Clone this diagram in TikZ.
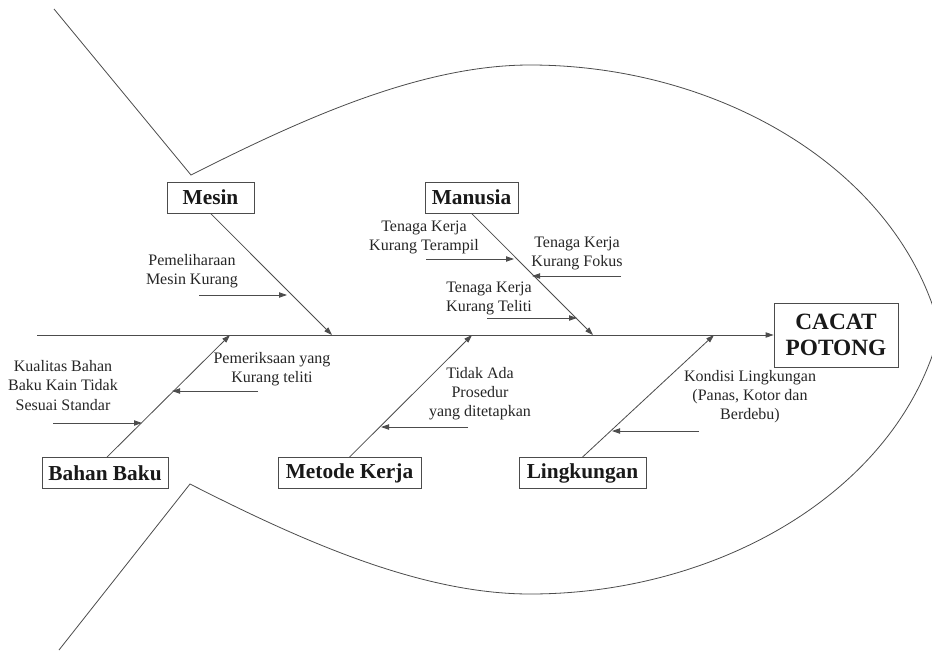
\documentclass[tikz,border=0pt]{standalone}
\usepackage{fontspec}
\setmainfont{Liberation Serif}
\usetikzlibrary{arrows.meta}
\begin{document}
\begin{tikzpicture}[x=0.75pt,y=-0.75pt,
  ln/.style={draw=black!70,line width=0.6pt},
  arr/.style={ln,-{Triangle[length=6pt,width=4pt]}},
  catbox/.style={draw=black!70,line width=0.6pt,fill=white,inner sep=0pt,
    minimum height=23.25pt,font=\fontsize{16}{19}\selectfont\bfseries,text=black!90},
  cause/.style={align=center,inner sep=0pt,font=\fontsize{12}{14.4}\selectfont,text=black!85}]
\useasboundingbox (0,0) rectangle (932,650);
\clip (0,0) rectangle (932,650);
\fill[white] (0,0) rectangle (932,650);

% fish outline
\draw[ln] (54,9) -- (191,175)
  .. controls (300,120) and (420,65) .. (530,65)
  .. controls (720,65) and (900,170) .. (940,330)
  .. controls (900,490) and (720,594) .. (530,594)
  .. controls (420,594) and (300,540) .. (190,484)
  -- (59,650);

% head
\node[catbox,minimum width=93pt,minimum height=48pt,font=\fontsize{17.5}{20}\selectfont\bfseries,align=center]
  (head) at (836,335) {CACAT\\POTONG};

% spine
\coordinate (tail) at (37,335);
\draw[arr] (tail) -- (head.west);

% category boxes
\node[catbox,minimum width=65.25pt] (mesin) at (210.5,197.5) {Mesin};
\node[catbox,minimum width=69.75pt] (manusia) at (471.5,197.5) {Manusia};
\node[catbox,minimum width=94.5pt] (bahan) at (105,473) {Bahan Baku};
\node[catbox,minimum width=107.25pt] (metode) at (349.5,473) {Metode Kerja};
\node[catbox,minimum width=95.25pt] (lingk) at (582.5,473) {Lingkungan};

% branch ends on spine
\coordinate (jm) at (332,335);
\coordinate (jmn) at (593,335);
\coordinate (jb) at (230,335);
\coordinate (jmt) at (472,335);
\coordinate (jl) at (714,335);

\draw[arr] (mesin.south) -- (jm);
\draw[arr] (manusia.south) -- (jmn);
\draw[arr] ([xshift=1.5pt]bahan.north) -- (jb);
\draw[arr] (metode.north) -- (jmt);
\draw[arr] (lingk.north) -- (jl);

% causes
\node[cause] (c1) at (192,271) {Pemeliharaan\\Mesin Kurang};
\coordinate (c1a) at (199,295); \coordinate (c1b) at (287,295);
\draw[arr] (c1a) -- (c1b);

\node[cause] (c2) at (424,237.5) {Tenaga Kerja\\Kurang Terampil};
\coordinate (c2a) at (426,259); \coordinate (c2b) at (514,259);
\draw[arr] (c2a) -- (c2b);

\node[cause] (c3) at (577,253.5) {Tenaga Kerja\\Kurang Fokus};
\coordinate (c3a) at (621,276); \coordinate (c3b) at (532,276);
\draw[arr] (c3a) -- (c3b);

\node[cause] (c4) at (489,298.5) {Tenaga Kerja\\Kurang Teliti};
\coordinate (c4a) at (487,318); \coordinate (c4b) at (577,318);
\draw[arr] (c4a) -- (c4b);

\node[cause] (c5) at (63,385.5) {Kualitas Bahan\\Baku Kain Tidak\\Sesuai Standar};
\coordinate (c5a) at (53,423); \coordinate (c5b) at (142,423);
\draw[arr] (c5a) -- (c5b);

\node[cause] (c6) at (272,369.5) {Pemeriksaan yang\\Kurang teliti};
\coordinate (c6a) at (258,391); \coordinate (c6b) at (172,391);
\draw[arr] (c6a) -- (c6b);

\node[cause] (c7) at (480,393.5) {Tidak Ada\\Prosedur\\yang ditetapkan};
\coordinate (c7a) at (468,427); \coordinate (c7b) at (381,427);
\draw[arr] (c7a) -- (c7b);

\node[cause] (c8) at (750,396.5) {Kondisi Lingkungan\\(Panas, Kotor dan\\Berdebu)};
\coordinate (c8a) at (699,431); \coordinate (c8b) at (612,431);
\draw[arr] (c8a) -- (c8b);
\end{tikzpicture}
\end{document}
